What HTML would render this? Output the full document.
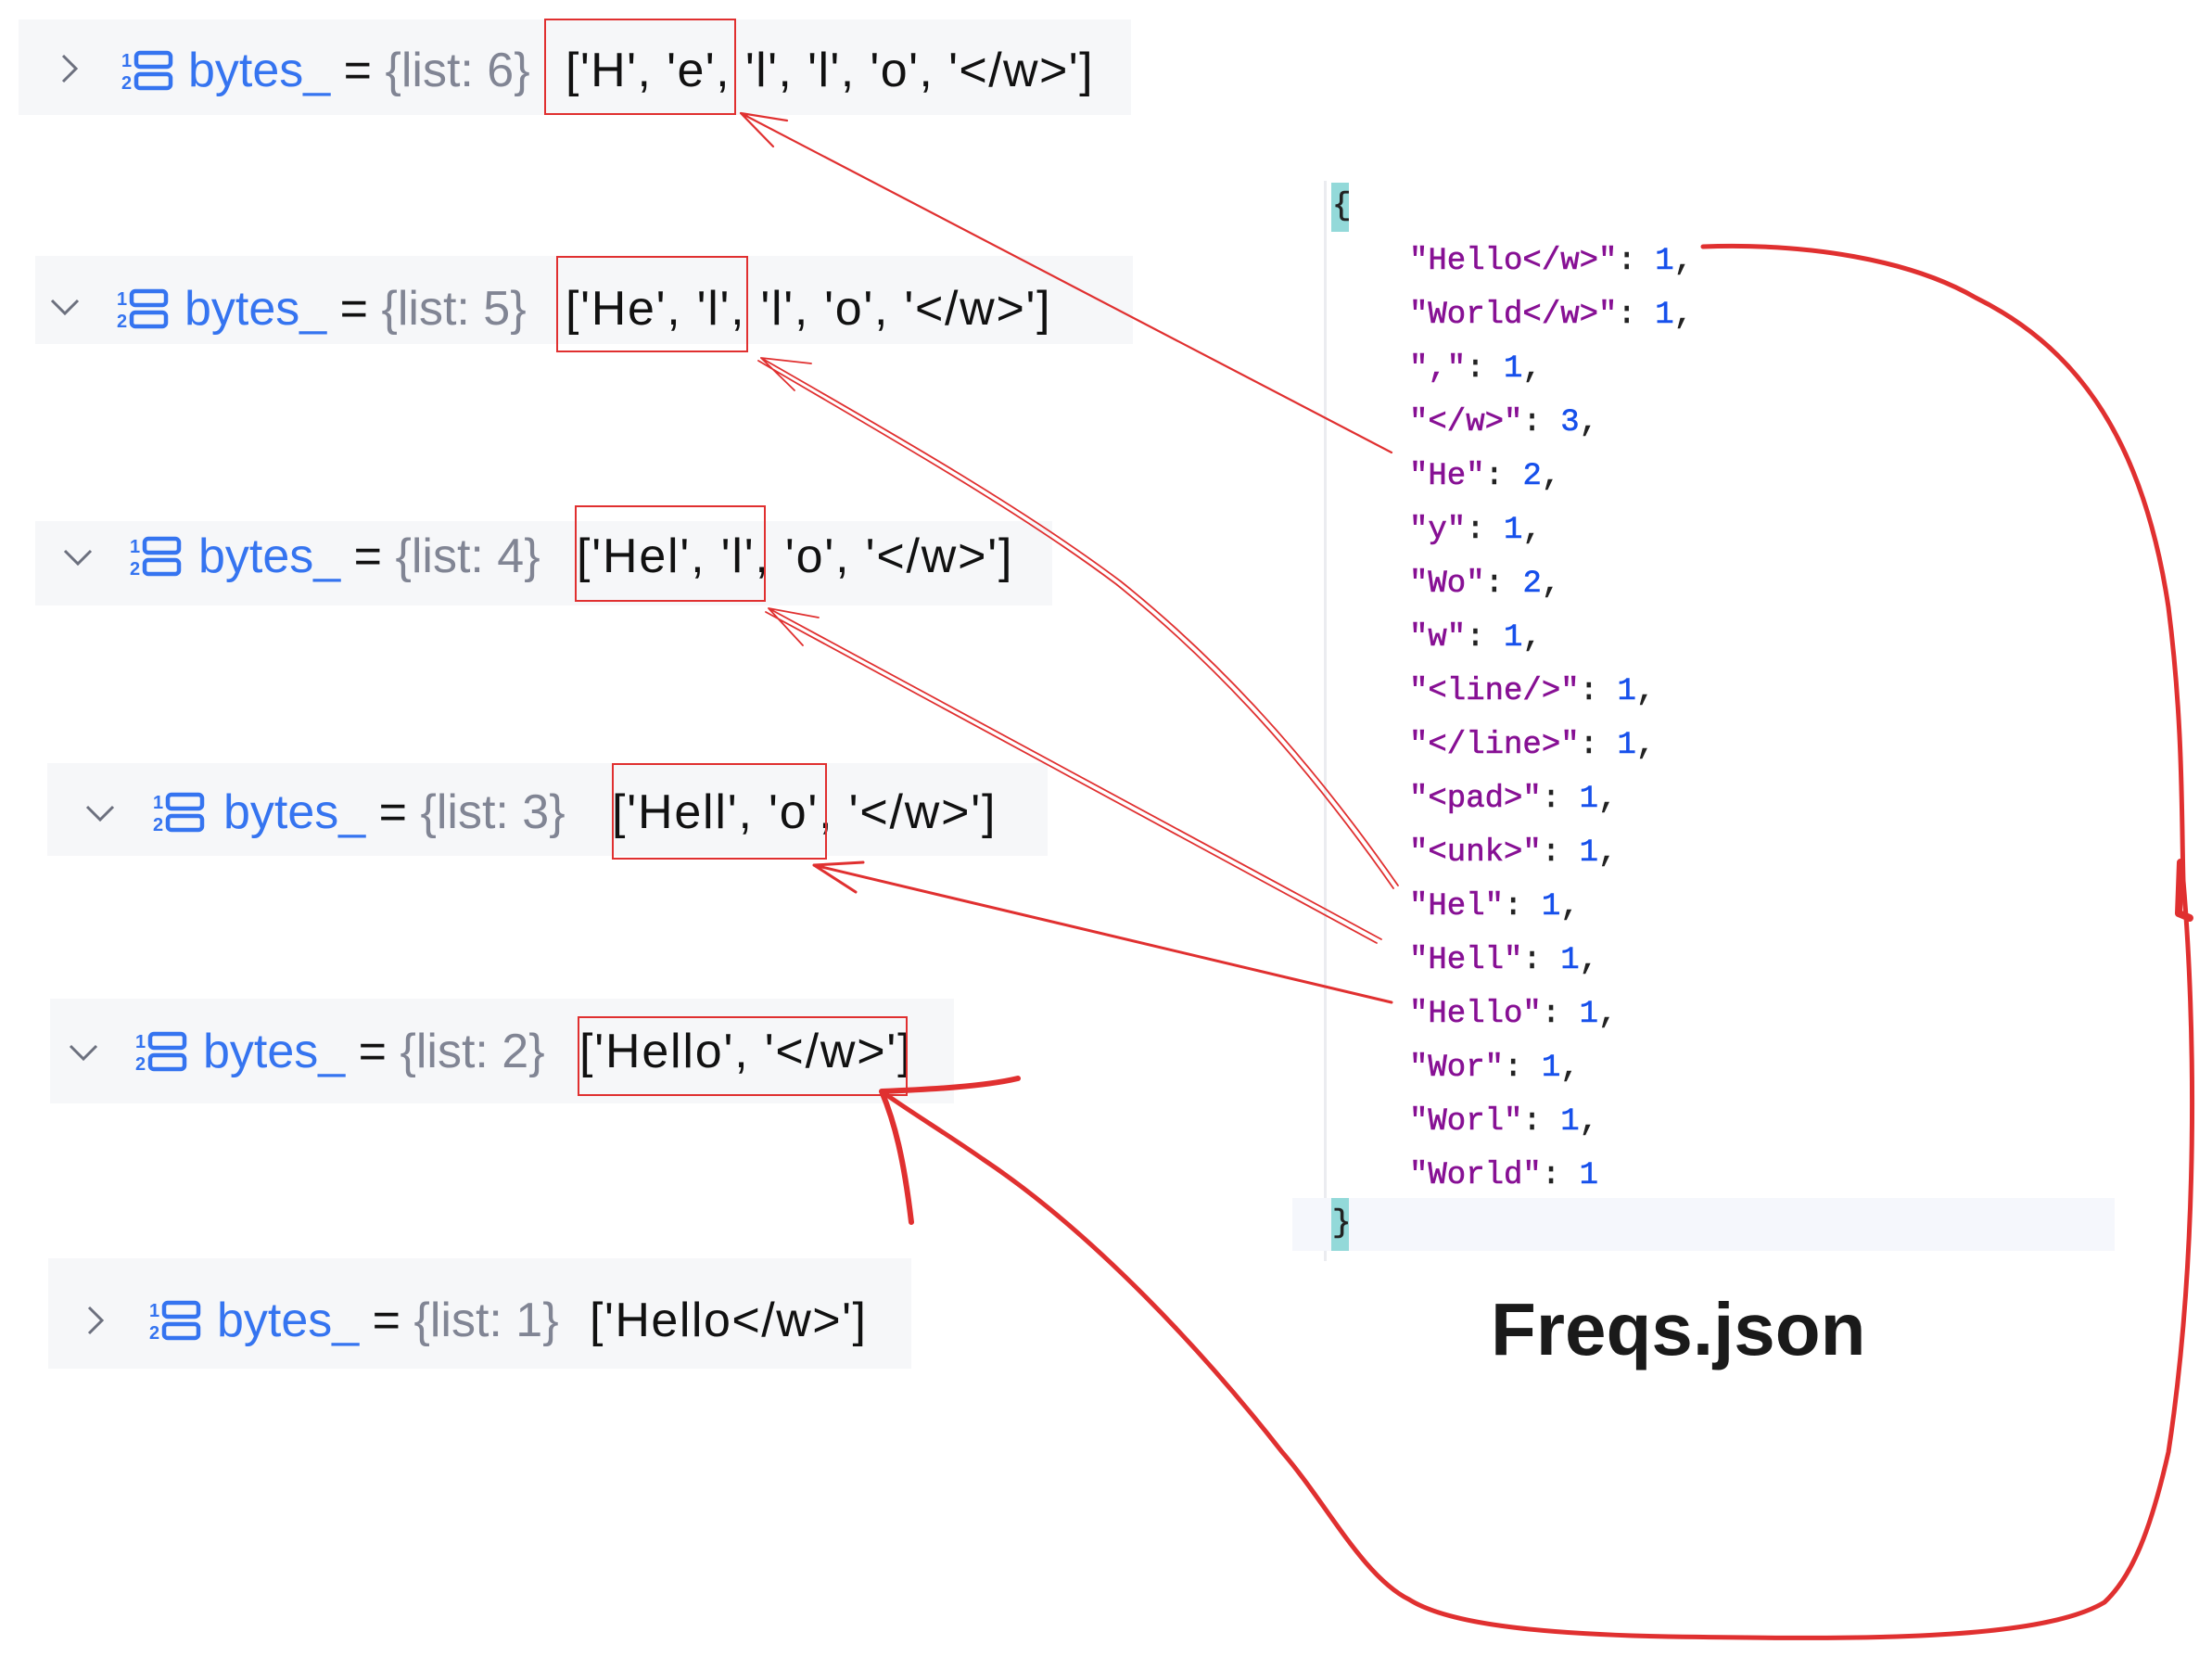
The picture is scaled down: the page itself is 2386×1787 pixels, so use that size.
<!DOCTYPE html>
<html><head><meta charset="utf-8"><style>
html,body{margin:0;padding:0;background:#fff}
body{width:2386px;height:1787px;position:relative;overflow:hidden;font-family:"Liberation Sans",sans-serif}
.bg{position:absolute;background:#f6f7f9}
.t{position:absolute;font-size:52px;line-height:60px;white-space:nowrap;color:#111}
.l{letter-spacing:1.4px}
.b{color:#3574f0}
.g{color:#818594}
.ch{position:absolute}
.ic{position:absolute;width:56px;height:48px}
.box{position:absolute;border:2px solid #e03030}
.j{position:absolute;left:1520px;font-family:"Liberation Mono",monospace;font-size:34px;line-height:40px;white-space:pre;color:#222;-webkit-text-stroke:0.6px}
.k{color:#871094}.n{color:#1750eb}
</style></head><body>

<div class="bg" style="left:20px;top:21px;width:1200px;height:103px"></div>
<div class="bg" style="left:38px;top:276px;width:1184px;height:95px"></div>
<div class="bg" style="left:38px;top:562px;width:1097px;height:91px"></div>
<div class="bg" style="left:51px;top:823px;width:1079px;height:100px"></div>
<div class="bg" style="left:54px;top:1077px;width:975px;height:113px"></div>
<div class="bg" style="left:52px;top:1357px;width:931px;height:119px"></div>

<svg width="0" height="0" style="position:absolute">
<defs><g id="icon"><text x="0" y="20" font-size="20" font-weight="bold" fill="#3574f0" font-family="Liberation Sans">1</text><text x="0" y="44" font-size="20" font-weight="bold" fill="#3574f0" font-family="Liberation Sans">2</text><rect x="16" y="5" width="37" height="15" rx="4" fill="none" stroke="#3574f0" stroke-width="4.5"/><rect x="16" y="28" width="37" height="15" rx="4" fill="none" stroke="#3574f0" stroke-width="4.5"/></g>
<polyline id="cr" points="2,2 16,16 2,30" fill="none" stroke="#6c707e" stroke-width="3"/>
<polyline id="cd" points="2,2 16,16 30,2" fill="none" stroke="#6c707e" stroke-width="3"/></defs></svg>

<!-- row1 -->
<svg class="ch" style="left:66px;top:58px" width="20" height="34"><use href="#cr"/></svg>
<svg class="ic" style="left:131px;top:52px"><use href="#icon"/></svg>
<div class="t" style="left:203px;top:46px"><span class="b">bytes_</span> = <span class="g">{list: 6}</span></div>
<div class="t l" style="left:610px;top:46px">['H', 'e', 'l', 'l', 'o', '&lt;/w&gt;']</div>
<!-- row2 -->
<svg class="ch" style="left:54px;top:322px" width="34" height="20"><use href="#cd"/></svg>
<svg class="ic" style="left:126px;top:309px"><use href="#icon"/></svg>
<div class="t" style="left:199px;top:303px"><span class="b">bytes_</span> = <span class="g">{list: 5}</span></div>
<div class="t l" style="left:610px;top:303px;letter-spacing:1.7px">['He', 'l', 'l', 'o', '&lt;/w&gt;']</div>
<!-- row3 -->
<svg class="ch" style="left:68px;top:592px" width="34" height="20"><use href="#cd"/></svg>
<svg class="ic" style="left:140px;top:576px"><use href="#icon"/></svg>
<div class="t" style="left:214px;top:570px"><span class="b">bytes_</span> = <span class="g">{list: 4}</span></div>
<div class="t l" style="left:622px;top:570px;letter-spacing:1.8px">['Hel', 'l', 'o', '&lt;/w&gt;']</div>
<!-- row4 -->
<svg class="ch" style="left:92px;top:868px" width="34" height="20"><use href="#cd"/></svg>
<svg class="ic" style="left:165px;top:852px"><use href="#icon"/></svg>
<div class="t" style="left:241px;top:846px"><span class="b">bytes_</span> = <span class="g">{list: 3}</span></div>
<div class="t l" style="left:660px;top:846px;letter-spacing:1.8px">['Hell', 'o', '&lt;/w&gt;']</div>
<!-- row5 -->
<svg class="ch" style="left:74px;top:1126px" width="34" height="20"><use href="#cd"/></svg>
<svg class="ic" style="left:146px;top:1110px"><use href="#icon"/></svg>
<div class="t" style="left:219px;top:1104px"><span class="b">bytes_</span> = <span class="g">{list: 2}</span></div>
<div class="t l" style="left:625px;top:1104px;letter-spacing:1.8px">['Hello', '&lt;/w&gt;']</div>
<!-- row6 -->
<svg class="ch" style="left:94px;top:1408px" width="20" height="34"><use href="#cr"/></svg>
<svg class="ic" style="left:161px;top:1400px"><use href="#icon"/></svg>
<div class="t" style="left:234px;top:1394px"><span class="b">bytes_</span> = <span class="g">{list: 1}</span></div>
<div class="t l" style="left:636px;top:1394px;letter-spacing:1.5px">['Hello&lt;/w&gt;']</div>

<div class="box" style="left:587px;top:20px;width:203px;height:100px"></div>
<div class="box" style="left:600px;top:276px;width:203px;height:100px"></div>
<div class="box" style="left:620px;top:545px;width:202px;height:100px"></div>
<div class="box" style="left:660px;top:823px;width:228px;height:100px"></div>
<div class="box" style="left:623px;top:1096px;width:352px;height:82px"></div>

<div style="position:absolute;left:1428px;top:195px;width:3px;height:1165px;background:#ebecf0"></div>
<div style="position:absolute;left:1394px;top:1292px;width:887px;height:57px;background:#f5f7fc"></div>
<div style="position:absolute;left:1436px;top:197px;width:19px;height:53px;background:#93d9d9"></div>
<div style="position:absolute;left:1436px;top:1292px;width:19px;height:57px;background:#93d9d9"></div>
<div class="j" style="left:1437px;top:203px">{</div>
<div class="j" style="left:1437px;top:1300px">}</div>
<div class="j" style="top:262px"><span class="k">"Hello&lt;/w&gt;"</span>: <span class="n">1</span>,</div>
<div class="j" style="top:320px"><span class="k">"World&lt;/w&gt;"</span>: <span class="n">1</span>,</div>
<div class="j" style="top:378px"><span class="k">","</span>: <span class="n">1</span>,</div>
<div class="j" style="top:436px"><span class="k">"&lt;/w&gt;"</span>: <span class="n">3</span>,</div>
<div class="j" style="top:494px"><span class="k">"He"</span>: <span class="n">2</span>,</div>
<div class="j" style="top:552px"><span class="k">"y"</span>: <span class="n">1</span>,</div>
<div class="j" style="top:610px"><span class="k">"Wo"</span>: <span class="n">2</span>,</div>
<div class="j" style="top:668px"><span class="k">"w"</span>: <span class="n">1</span>,</div>
<div class="j" style="top:726px"><span class="k">"&lt;line/&gt;"</span>: <span class="n">1</span>,</div>
<div class="j" style="top:784px"><span class="k">"&lt;/line&gt;"</span>: <span class="n">1</span>,</div>
<div class="j" style="top:842px"><span class="k">"&lt;pad&gt;"</span>: <span class="n">1</span>,</div>
<div class="j" style="top:900px"><span class="k">"&lt;unk&gt;"</span>: <span class="n">1</span>,</div>
<div class="j" style="top:958px"><span class="k">"Hel"</span>: <span class="n">1</span>,</div>
<div class="j" style="top:1016px"><span class="k">"Hell"</span>: <span class="n">1</span>,</div>
<div class="j" style="top:1074px"><span class="k">"Hello"</span>: <span class="n">1</span>,</div>
<div class="j" style="top:1132px"><span class="k">"Wor"</span>: <span class="n">1</span>,</div>
<div class="j" style="top:1190px"><span class="k">"Worl"</span>: <span class="n">1</span>,</div>
<div class="j" style="top:1248px"><span class="k">"World"</span>: <span class="n">1</span></div>

<div style="position:absolute;left:1608px;top:1388px;font-family:'Liberation Sans',sans-serif;font-size:80px;font-weight:bold;color:#1a1a1a">Freqs.json</div>

<svg style="position:absolute;left:0;top:0" width="2386" height="1787" fill="none" stroke="#e03030" stroke-linecap="round" stroke-linejoin="round">
<path d="M1501 488 L799 122 M799 122 L849 130 M799 122 L834 158" stroke-width="2.2"/>
<path d="M1508 955 C1400 800 1300 700 1209 627 C1100 545 950 460 821 386 M1503 958 C1395 803 1295 703 1204 630 C1095 548 945 464 818 389 M821 386 L875 392 M821 386 L857 421" stroke-width="1.8"/>
<path d="M1490 1013 L829 656 M1485 1017 L826 660 M829 656 L883 666 M829 656 L866 696" stroke-width="1.8"/>
<path d="M1501 1081 L878 933 M878 933 L931 930 M878 933 L923 962" stroke-width="3"/>
<path d="M1837 266 C1950 262 2060 280 2131 321 C2230 370 2310 460 2339 655 C2355 780 2353 880 2355 950 C2368 1100 2372 1350 2339 1566 C2320 1650 2300 1700 2270 1728 C2200 1770 2000 1768 1800 1765 C1650 1762 1560 1750 1520 1725 C1470 1700 1430 1620 1383 1566 C1300 1460 1180 1330 1060 1250 C1020 1222 980 1198 951 1177" stroke-width="5"/>
<path d="M2352 930 L2350 985 L2362 990" stroke-width="8"/>
<path d="M951 1177 C1000 1175 1060 1172 1098 1163 M951 1177 C965 1210 975 1250 983 1318" stroke-width="6"/>
</svg>
</body></html>
